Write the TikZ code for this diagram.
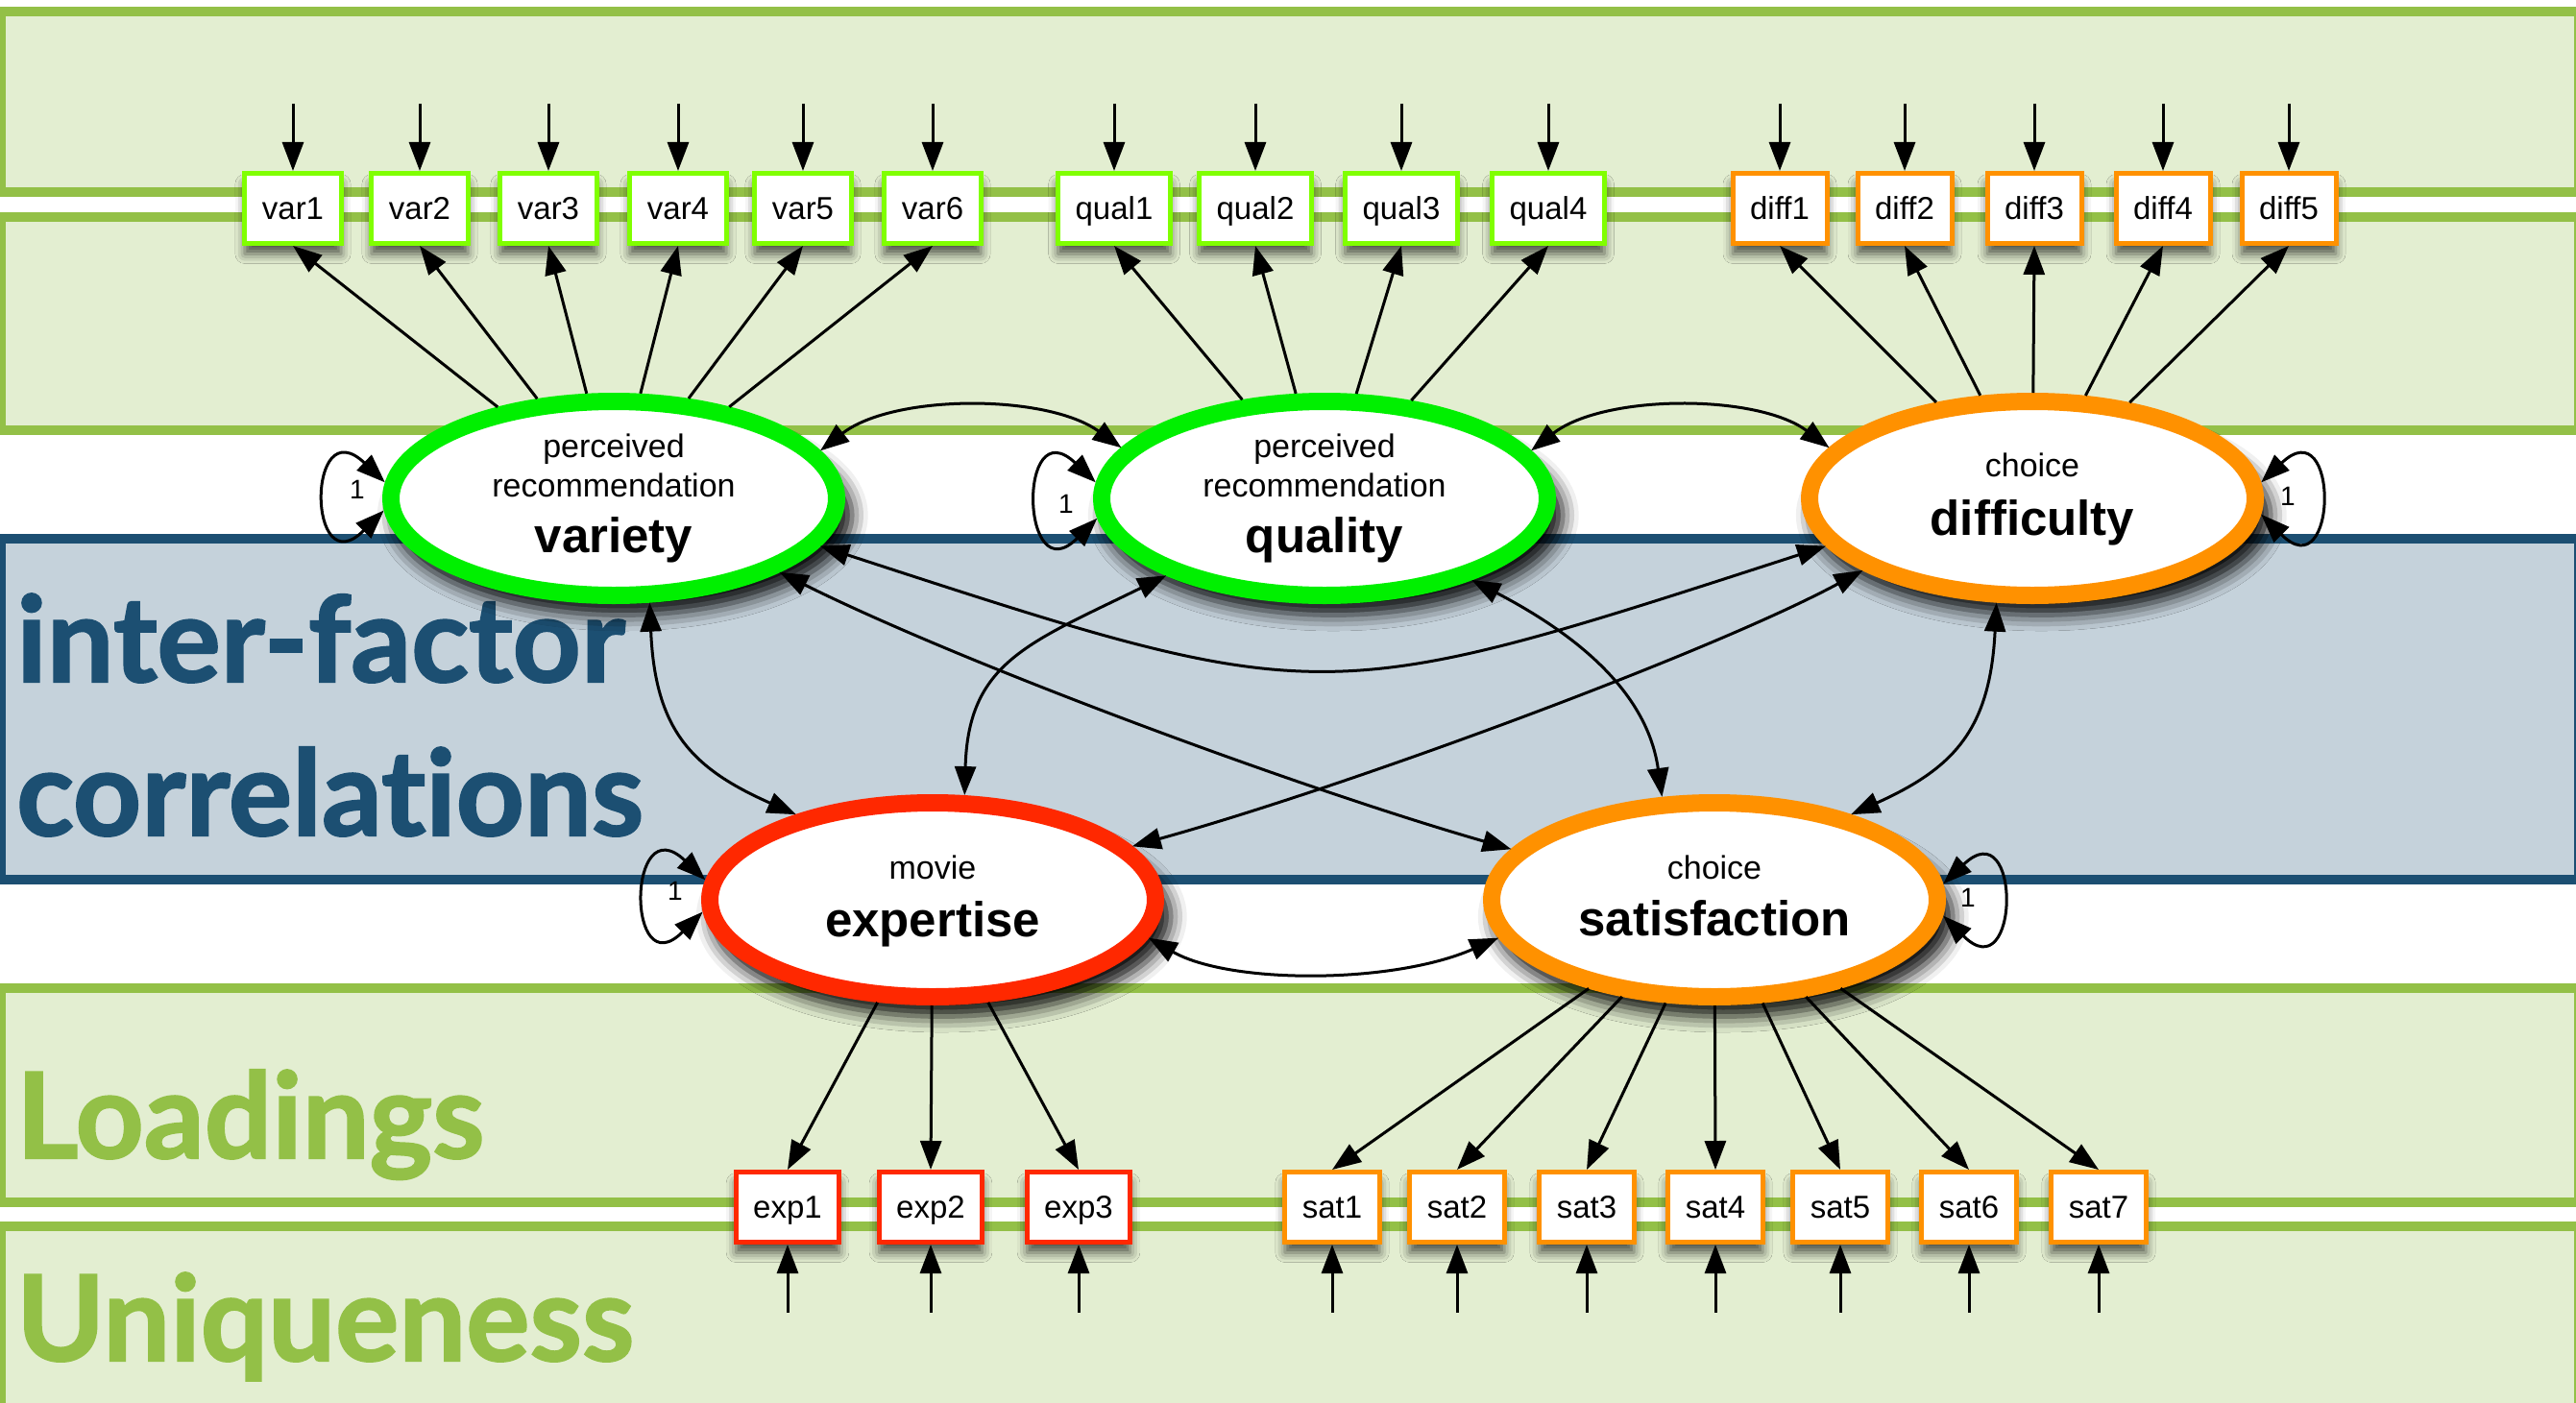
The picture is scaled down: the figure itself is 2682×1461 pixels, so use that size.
\documentclass[tikz,border=0pt]{standalone}
\usepackage{fontspec}
\setmainfont{Liberation Sans}
\newfontfamily\titlefont{Lato}[Ligatures=NoCommon, BoldFeatures={FakeBold=1.6}]
\usetikzlibrary{arrows.meta,shapes.geometric,shadows.blur}

\definecolor{panelfill}{RGB}{227,238,209}
\definecolor{panelgreen}{RGB}{147,192,71}
\definecolor{corrfill}{RGB}{197,210,219}
\definecolor{corrblue}{RGB}{28,79,114}
\definecolor{boxlime}{RGB}{128,255,0}
\definecolor{latgreen}{RGB}{0,240,0}
\definecolor{latorange}{RGB}{255,145,0}
\definecolor{latred}{RGB}{255,40,0}

\begin{document}
\begin{tikzpicture}[x=1pt,y=-1pt,
  panel/.style={draw=panelgreen, fill=panelfill, line width=10pt},
  corrpanel/.style={draw=corrblue, fill=corrfill, line width=10pt},
  obs/.style={rectangle, fill=white, line width=5pt, minimum width=98pt,
    minimum height=73pt, inner xsep=18pt, inner ysep=0pt,
    text height=28pt, text depth=6pt, font=\fontsize{33}{33}\selectfont,
    blur shadow={shadow xshift=0pt, shadow yshift=-11pt,
      shadow blur radius=10pt, shadow opacity=65}},
  lat/.style={ellipse, fill=white, line width=18pt, minimum width=464pt,
    minimum height=202pt, inner sep=0pt,
    blur shadow={shadow xshift=9pt, shadow yshift=-17pt, shadow scale=1.03,
      shadow blur radius=16pt, shadow opacity=95}},
  small/.style={font=\fontsize{34}{34}\selectfont, inner sep=0pt, anchor=base},
  big/.style={font=\bfseries\fontsize{51}{51}\selectfont, inner sep=0pt, anchor=base},
  one/.style={font=\fontsize{28}{28}\selectfont, inner sep=0pt},
  title/.style={font=\titlefont\bfseries\fontsize{124}{124}\selectfont,
    inner sep=0pt, anchor=base west},
  tip/.tip={Triangle[length=30pt,width=22pt]},
  arr/.style={line width=3pt, -tip},
  darr/.style={line width=3pt, tip-tip},
]
\useasboundingbox (0,0) rectangle (2682,1461);

% background bands
\path[panel] (1,12) rectangle (2685,200);
\path[panel] (1,225.5) rectangle (2685,448);
\path[corrpanel] (1,561) rectangle (2685,916);
\path[panel] (1,1029) rectangle (2685,1252);
\path[panel] (1,1277) rectangle (2685,1466);

% band titles
\node[title, text=corrblue] (t-inter) at (17,710) {inter-factor};
\node[title, text=corrblue] (t-corr) at (17,870) {correlations};
\node[title, text=panelgreen] (t-load) at (17,1206) {Loadings};
\node[title, text=panelgreen] (t-uniq) at (17,1417) {Uniqueness};

% indicators, top row
\foreach \n/\x in {var1/305,var2/437,var3/571,var4/706,var5/836,var6/971,
                   qual1/1160,qual2/1307,qual3/1459,qual4/1612}
  \node[obs, draw=boxlime] (\n) at (\x,217) {\n};
\foreach \n/\x in {diff1/1853,diff2/1983,diff3/2118,diff4/2252,diff5/2383}
  \node[obs, draw=latorange] (\n) at (\x,217) {\n};
% indicators, bottom row
\foreach \n/\x in {exp1/820,exp2/969,exp3/1123}
  \node[obs, draw=latred] (\n) at (\x,1257) {\n};
\foreach \n/\x in {sat1/1387,sat2/1517,sat3/1652,sat4/1786,sat5/1916,sat6/2050,sat7/2185}
  \node[obs, draw=latorange] (\n) at (\x,1257) {\n};

% latent factors
\node[lat, draw=latgreen] (V) at (639,519) {};
\node[lat, draw=latgreen] (Q) at (1379,519) {};
\node[lat, draw=latorange] (D) at (2116,519) {};
\node[lat, draw=latred] (E) at (971,937) {};
\node[lat, draw=latorange] (S) at (1785,937) {};

\node[small] (V-a) at ([yshift=43pt]V.center) {perceived};
\node[small] (V-b) at ([yshift=2pt]V.center) {recommendation};
\node[big]   (V-c) at ([yshift=-56pt]V.center) {variety};
\node[small] (Q-a) at ([yshift=43pt]Q.center) {perceived};
\node[small] (Q-b) at ([yshift=2pt]Q.center) {recommendation};
\node[big]   (Q-c) at ([yshift=-56pt]Q.center) {quality};
\node[small] (D-a) at ([yshift=23pt]D.center) {choice};
\node[big]   (D-b) at ([yshift=-38pt]D.center) {difficulty};
\node[small] (E-a) at ([yshift=22pt]E.center) {movie};
\node[big]   (E-b) at ([yshift=-38pt]E.center) {expertise};
\node[small] (S-a) at ([yshift=22pt]S.center) {choice};
\node[big]   (S-b) at ([yshift=-37pt]S.center) {satisfaction};

% loadings
\foreach \n in {var1,var2,var3,var4,var5,var6} \draw[arr] (V) -- (\n.south);
\foreach \n in {qual1,qual2,qual3,qual4} \draw[arr] (Q) -- (\n.south);
\foreach \n in {diff1,diff2,diff3,diff4,diff5} \draw[arr] (D) -- (\n.south);
\foreach \n in {exp1,exp2,exp3} \draw[arr] (E) -- (\n.north);
\foreach \n in {sat1,sat2,sat3,sat4,sat5,sat6,sat7} \draw[arr] (S) -- (\n.north);

% uniqueness terms
\foreach \n/\x in {var1/305,var2/437,var3/571,var4/706,var5/836,var6/971,
                   qual1/1160,qual2/1307,qual3/1459,qual4/1612,
                   diff1/1853,diff2/1983,diff3/2118,diff4/2252,diff5/2383}{
  \coordinate (u-\n) at (\x,108);
  \draw[arr] (u-\n) -- (\n);
}
\foreach \n/\x in {exp1/820,exp2/969,exp3/1123,sat1/1387,sat2/1517,sat3/1652,
                   sat4/1786,sat5/1916,sat6/2050,sat7/2185}{
  \coordinate (u-\n) at (\x,1367);
  \draw[arr] (u-\n) -- (\n);
}

% factor variances fixed to 1
\draw[darr] (V.176) .. controls +(-82,-78) and +(-80,80) .. (V.183);
\draw[darr] (Q.176) .. controls +(-82,-78) and +(-80,80) .. (Q.185);
\draw[darr] (E.175) .. controls +(-82,-78) and +(-80,80) .. (E.183);
\draw[darr] (D.4) .. controls +(82,-78) and +(80,80) .. (D.356);
\draw[darr] (S.4) .. controls +(82,-78) and +(80,80) .. (S.356);
\node[one] (V-one) at (372,510) {1};
\node[one] (Q-one) at (1110,525) {1};
\node[one] (E-one) at (703,928) {1};
\node[one] (D-one) at (2382,517) {1};
\node[one] (S-one) at (2049,935) {1};

% inter-factor correlations
\draw[darr] (V.13) .. controls (930,410) and (1090,410) .. (Q.166);
\draw[darr] (Q.13) .. controls (1670,410) and (1830,410) .. (D.166);
\draw[darr] (V.289) .. controls (682,760) and (720,800) .. (E.148);
\draw[darr] (V.336) .. controls (1000,690) and (1350,820) .. (S.166);
\draw[darr] (V.347) .. controls (1380,740) and (1372,740) .. (D.193);
\draw[darr] (Q.206) .. controls (1070,670) and (1008,690) .. (E.73);
\draw[darr] (Q.331) .. controls (1640,660) and (1715,720) .. (S.117);
\draw[darr] (D.203) .. controls (1780,680) and (1400,820) .. (E.15);
\draw[darr] (D.251) .. controls (2072,760) and (2034,800) .. (S.32);
\draw[darr] (E.350) .. controls (1280,1025) and (1450,1025) .. (S.190);
\end{tikzpicture}
\end{document}
